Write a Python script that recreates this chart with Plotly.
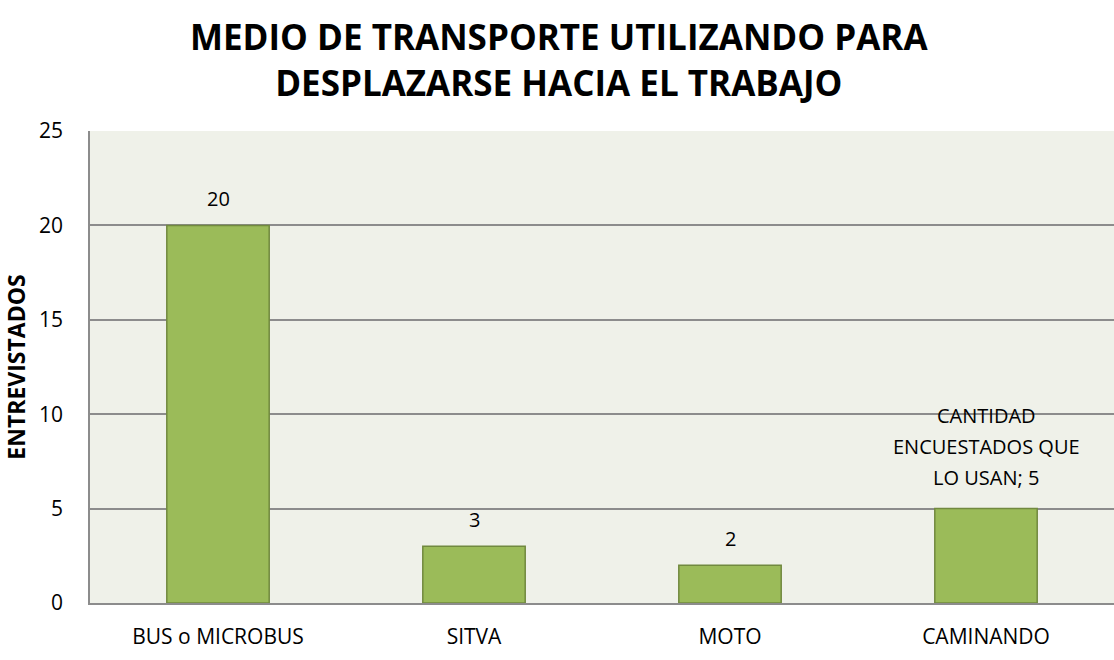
import plotly.graph_objects as go

categories = ["BUS o MICROBUS", "SITVA", "MOTO", "CAMINANDO"]
values = [20, 3, 2, 5]
labels = [["20"], ["3"], ["2"], ["CANTIDAD", "ENCUESTADOS QUE", "LO USAN; 5"]]
title_lines = ["MEDIO DE TRANSPORTE UTILIZANDO PARA", "DESPLAZARSE HACIA EL TRABAJO"]

FONT = "Open Sans"

fig = go.Figure(go.Bar(
    x=categories, y=values,
    marker=dict(color="#9BBB59", line=dict(color="#71893F", width=1.5)),
    hoverinfo="x+y",
))

annotations = []
# value labels (one annotation per line, stacked above the bar top)
for cat, val, lines in zip(categories, values, labels):
    n = len(lines)
    for i, line in enumerate(lines):
        annotations.append(dict(
            x=cat, y=val, xref="x", yref="y", text=line, showarrow=False,
            xanchor="center", yanchor="middle",
            yshift=(27 if n == 1 else 31) + (n - 1 - i) * 31,
            font=dict(size=20, family=FONT, color="#000000"),
        ))
# title, two lines in one text
annotations.append(dict(
    x=0.4578, y=1.1525, xref="paper", yref="paper",
    text="<b>" + "<br>".join(title_lines) + "</b>",
    showarrow=False, xanchor="center", yanchor="middle", align="center",
    font=dict(size=35, family=FONT, color="#000000"),
))

fig.update_layout(
    width=1114, height=660,
    margin=dict(l=90, r=0, t=131, b=57),
    paper_bgcolor="white", plot_bgcolor="#EFF1E9",
    bargap=0.6,
    showlegend=False,
    annotations=annotations,
    font=dict(family=FONT, color="#000000"),
)
fig.update_xaxes(showgrid=False, showline=True, linecolor="#8C8C8C", linewidth=1.5,
                 tickfont=dict(size=21), ticks="", ticklabelstandoff=14)
fig.update_yaxes(range=[0, 25], dtick=5, showgrid=True, gridcolor="#8C8C8C", gridwidth=1.5,
                 showline=True, linecolor="#8C8C8C", linewidth=1.5,
                 tickfont=dict(size=21), ticks="", ticklabelstandoff=21, zeroline=False,
                 title=dict(text="<b>ENTREVISTADOS</b>", font=dict(size=23), standoff=12))

fig.write_html("out.html", config={"displayModeBar": False},
               post_script="document.body.style.margin='0';document.body.style.overflow='hidden';")
